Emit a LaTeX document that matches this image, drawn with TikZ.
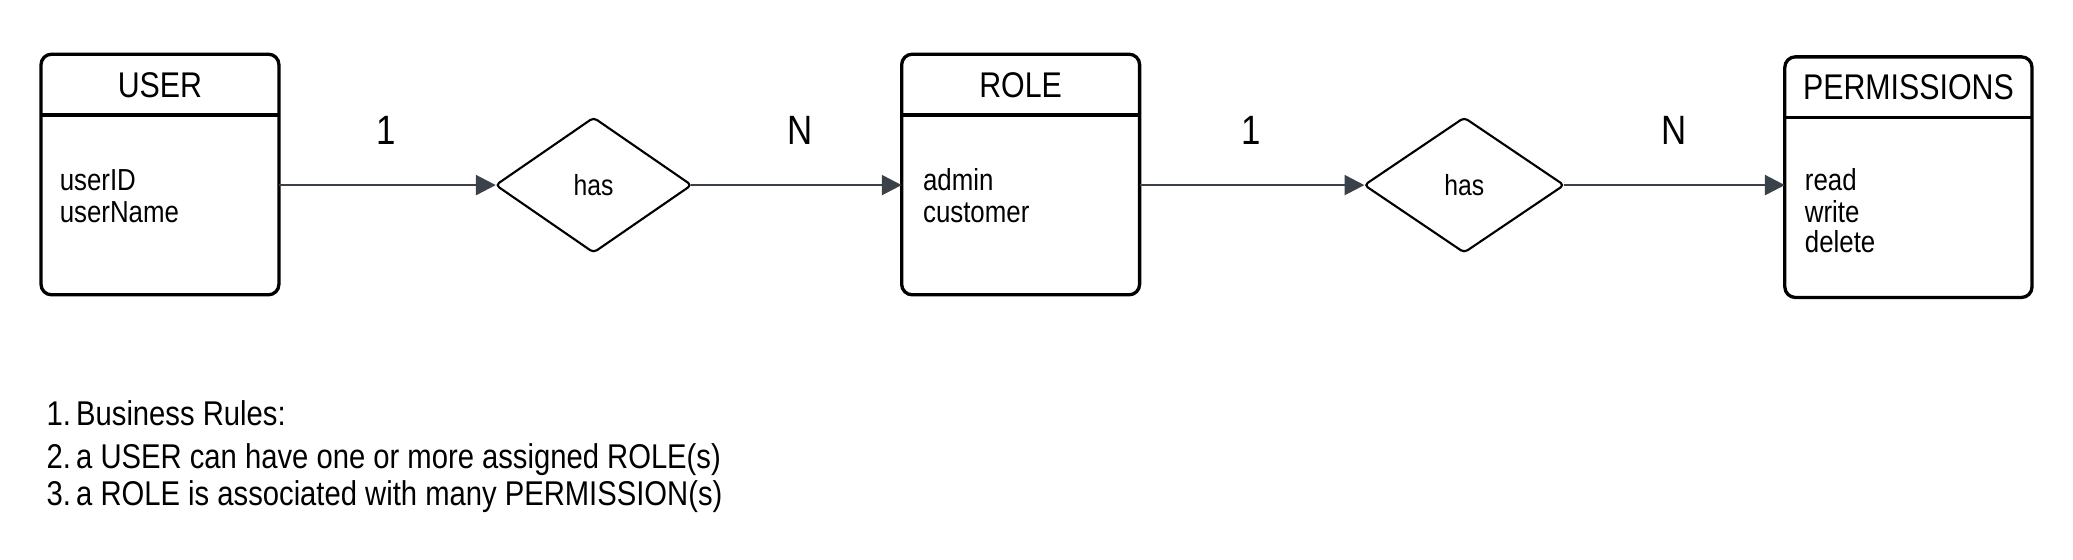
\documentclass[tikz,border=0pt]{standalone}
\usepackage{fontspec}
\setmainfont[FakeStretch=0.85]{Liberation Sans}
\usetikzlibrary{shapes.geometric,arrows.meta}
\definecolor{conncol}{HTML}{3B4149}
\begin{document}
\begin{tikzpicture}[x=1pt,y=-1pt,
  entity/.style={draw=black, line width=2.5pt, rounded corners=8pt, fill=white, rectangle, inner sep=0pt, outer sep=0pt},
  hdr/.style={font=\fontsize{27}{32}\selectfont, anchor=base, inner sep=0pt},
  attr/.style={font=\fontsize{23}{23.5}\selectfont, align=left, anchor=base west, inner sep=0pt},
  rel/.style={diamond, draw=black, line width=1.6pt, rounded corners=3pt, minimum width=148pt, minimum height=102pt, inner sep=0pt, outer sep=0pt, font=\fontsize{22}{24}\selectfont},
  card/.style={font=\fontsize{31}{34}\selectfont, anchor=base, inner sep=0pt},
  conn/.style={draw=conncol, line width=2pt, -{Triangle[length=15pt,width=15pt]}},
  rule/.style={font=\fontsize{26}{28}\selectfont, anchor=base west, inner sep=0pt}
]
\useasboundingbox[fill=white] (0,0) rectangle (1568,423);

% entities
\node[entity, minimum width=180pt, minimum height=182pt] (user) at (121,132) {};
\draw[line width=2.5pt] (user.west |- 0,87) -- (user.east |- 0,87);
\node[hdr] (userT) at (121,74) {USER};
\node[attr] (userA) at (45,144) {userID};
\node[attr] (userB) at (45,168) {userName};

\node[entity, minimum width=180pt, minimum height=182pt] (role) at (772,132) {};
\draw[line width=2.5pt] (role.west |- 0,87) -- (role.east |- 0,87);
\node[hdr] (roleT) at (772,74) {ROLE};
\node[attr] (roleA) at (698,144) {admin};
\node[attr] (roleB) at (698,168) {customer};

\node[entity, minimum width=187pt, minimum height=182pt] (perm) at (1443.5,134) {};
\draw[line width=2.5pt] (perm.west |- 0,89) -- (perm.east |- 0,89);
\node[hdr] (permT) at (1443.5,75) {PERMISSIONS};
\node[attr] (permA) at (1365,144) {read};
\node[attr] (permB) at (1365,168) {write};
\node[attr] (permC) at (1365,191) {delete};

% relationships
\node[rel] (d1) at (449,140) {has};
\node[rel, minimum width=151pt] (d2) at (1107.5,140) {has};

% connectors
\draw[conn] (user.east |- d1.west) -- (d1.west);
\draw[conn] (d1.east) -- (role.west |- d1.east);
\draw[conn] (role.east |- d2.west) -- (d2.west);
\draw[conn] (d2.east) -- (perm.west |- d2.east);

% cardinalities
\node[card] (c1) at (292,109) {1};
\node[card] (c2) at (605,109) {N};
\node[card] (c3) at (946,109) {1};
\node[card] (c4) at (1266,109) {N};

% business rules
\node[rule] (r1) at (35,322) {1.\hspace{4pt}Business Rules:};
\node[rule] (r2) at (35,354) {2.\hspace{4pt}a USER can have one or more assigned ROLE(s)};
\node[rule] (r3) at (35,382) {3.\hspace{4pt}a ROLE is associated with many PERMISSION(s)};
\end{tikzpicture}
\end{document}
